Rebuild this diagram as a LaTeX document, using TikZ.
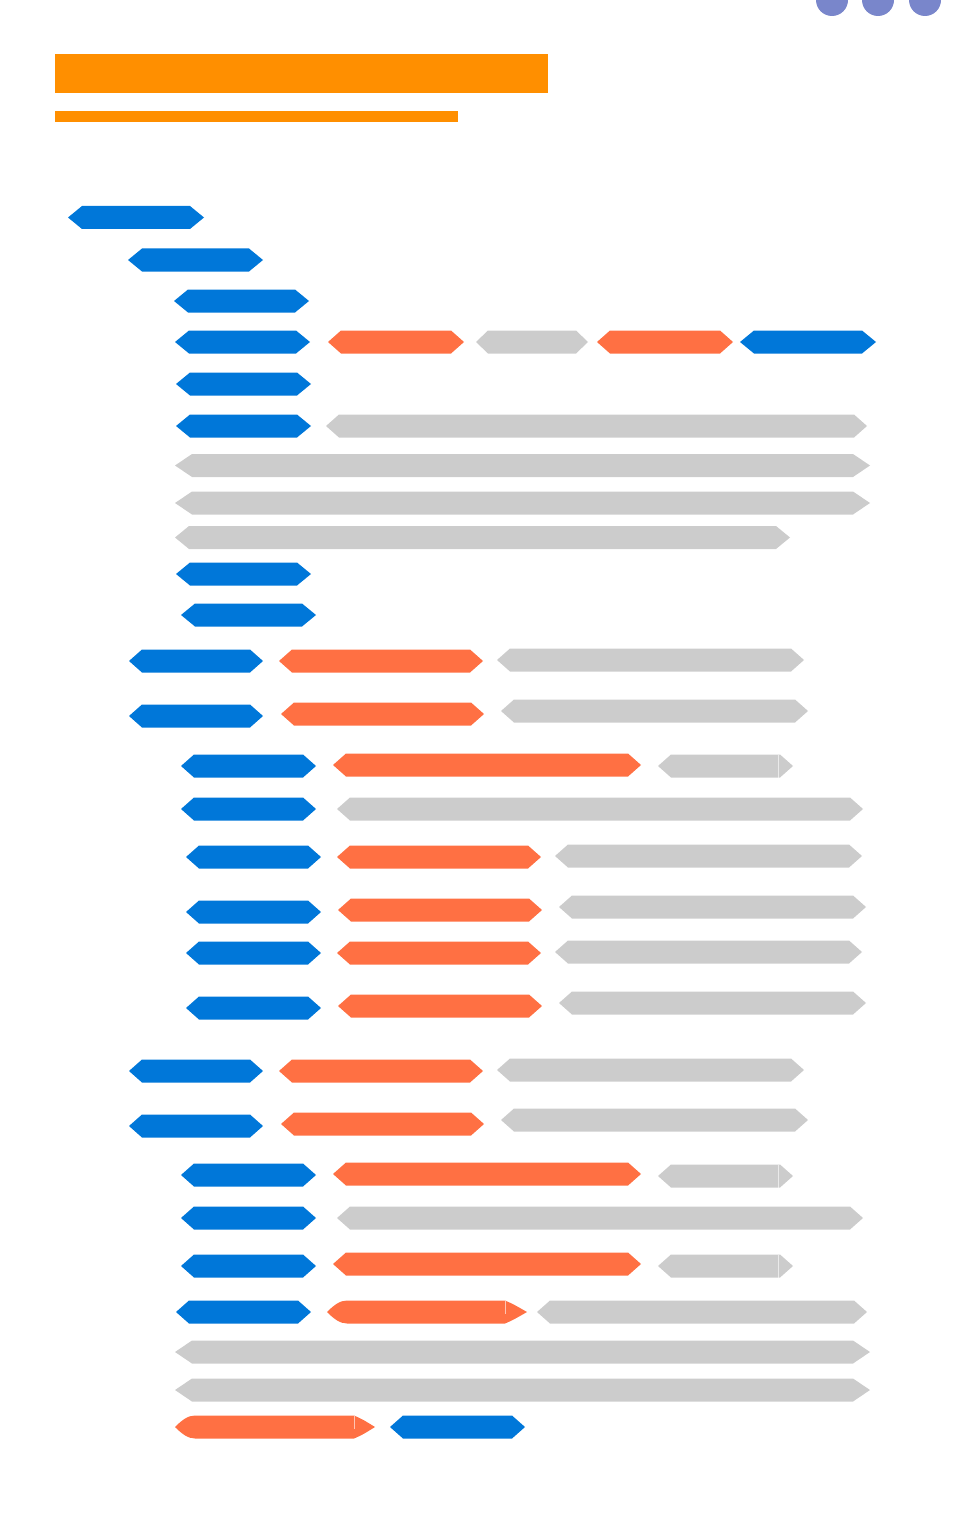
\documentclass[tikz,border=0pt]{standalone}
\definecolor{cblue}{RGB}{0,119,217}
\definecolor{corange}{RGB}{255,112,67}
\definecolor{cgray}{RGB}{204,204,204}
\definecolor{ctitle}{RGB}{255,143,0}
\definecolor{cdot}{RGB}{121,134,203}
\newcommand\hexbar[5]{%
  \fill[#1] (#2,#4) -- (#2+#5,#4-11.5) -- (#3-#5,#4-11.5) -- (#3,#4) -- (#3-#5,#4+11.5) -- (#2+#5,#4+11.5) -- cycle;}
% rounded-left / arrow-right variant: color, x1, seam, x2, y
\newcommand\arrowbar[5]{%
  \fill[#1] (#2,#5) .. controls (#2+7,#5-7) and (#2+13,#5-11.5) .. (#2+20,#5-11.5) -- (#3,#5-11.5) .. controls (#3+8,#5-8) .. (#4,#5) .. controls (#3+8,#5+8) .. (#3,#5+11.5) -- (#2+20,#5+11.5) .. controls (#2+13,#5+11.5) and (#2+7,#5+7) .. cycle;
  \draw[white,opacity=0.6,line width=0.6pt] (#3,#5-11.5) -- (#3,#5+2);}
\newcommand\seambar[5]{%
  \hexbar{#1}{#2}{#4}{#5}{13}
  \draw[white,opacity=0.6,line width=0.6pt] (#3,#5-11.5) -- (#3,#5+11.5);}
\begin{document}
\begin{tikzpicture}[x=1pt,y=-1pt]
\useasboundingbox (0,0) rectangle (956,1514);
\tikzset{B/.style={cblue},O/.style={corange},G/.style={cgray}}
% dots
\fill[cdot] (832,0) circle (16);
\fill[cdot] (878,0) circle (16);
\fill[cdot] (925,0) circle (16);
% title bars
\fill[ctitle] (55,54) rectangle (548,93);
\fill[ctitle] (55,111) rectangle (458,122);
% rows
\hexbar{B}{68}{204}{217.5}{14}
\hexbar{B}{128}{263}{260}{14}
\hexbar{B}{174}{309}{301}{14}
\hexbar{B}{175}{310}{342}{14}
\hexbar{O}{328}{464}{342}{13}
\hexbar{G}{476}{588}{342}{12}
\hexbar{O}{597}{733}{342}{13}
\hexbar{B}{740}{876}{342}{14}
\hexbar{B}{176}{311}{384}{14}
\hexbar{B}{176}{311}{426}{14}
\hexbar{G}{326}{867}{426}{13}
\hexbar{G}{175}{870}{465.5}{17}
\hexbar{G}{175}{870}{503}{17}
\hexbar{G}{175}{790}{537.5}{14}
\hexbar{B}{176}{311}{574}{14}
\hexbar{B}{181}{316}{615}{14}
% block 1
\hexbar{B}{129}{263}{661}{13}
\hexbar{O}{279}{483}{661}{13}
\hexbar{G}{497}{804}{660}{13}
\hexbar{B}{129}{263}{716}{13}
\hexbar{O}{281}{484}{714}{13}
\hexbar{G}{501}{808}{711}{13}
\hexbar{B}{181}{316}{766}{13}
\hexbar{O}{333}{641}{765}{13}
\seambar{G}{658}{778}{793}{766}
\hexbar{B}{181}{316}{809}{13}
\hexbar{G}{337}{863}{809}{13}
\hexbar{B}{186}{321}{857}{13}
\hexbar{O}{337}{541}{857}{13}
\hexbar{G}{555}{862}{856}{13}
\hexbar{B}{186}{321}{912}{13}
\hexbar{O}{338}{542}{910}{13}
\hexbar{G}{559}{866}{907}{13}
\hexbar{B}{186}{321}{953}{13}
\hexbar{O}{337}{541}{953}{13}
\hexbar{G}{555}{862}{952}{13}
\hexbar{B}{186}{321}{1008}{13}
\hexbar{O}{338}{542}{1006}{13}
\hexbar{G}{559}{866}{1003}{13}
% block 2
\hexbar{B}{129}{263}{1071}{13}
\hexbar{O}{279}{483}{1071}{13}
\hexbar{G}{497}{804}{1070}{13}
\hexbar{B}{129}{263}{1126}{13}
\hexbar{O}{281}{484}{1124}{13}
\hexbar{G}{501}{808}{1120}{13}
\hexbar{B}{181}{316}{1175}{13}
\hexbar{O}{333}{641}{1174}{13}
\seambar{G}{658}{778}{793}{1176}
\hexbar{B}{181}{316}{1218}{13}
\hexbar{G}{337}{863}{1218}{13}
\hexbar{B}{181}{316}{1266}{13}
\hexbar{O}{333}{641}{1264}{13}
\seambar{G}{658}{778}{793}{1266}
\hexbar{B}{176}{311}{1312}{13}
\arrowbar{O}{327}{505}{527}{1312}
\hexbar{G}{537}{867}{1312}{13}
\hexbar{G}{175}{870}{1352}{17}
\hexbar{G}{175}{870}{1390}{17}
\arrowbar{O}{175}{354}{375}{1427}
\hexbar{B}{390}{525}{1427}{13}
\end{tikzpicture}
\end{document}
